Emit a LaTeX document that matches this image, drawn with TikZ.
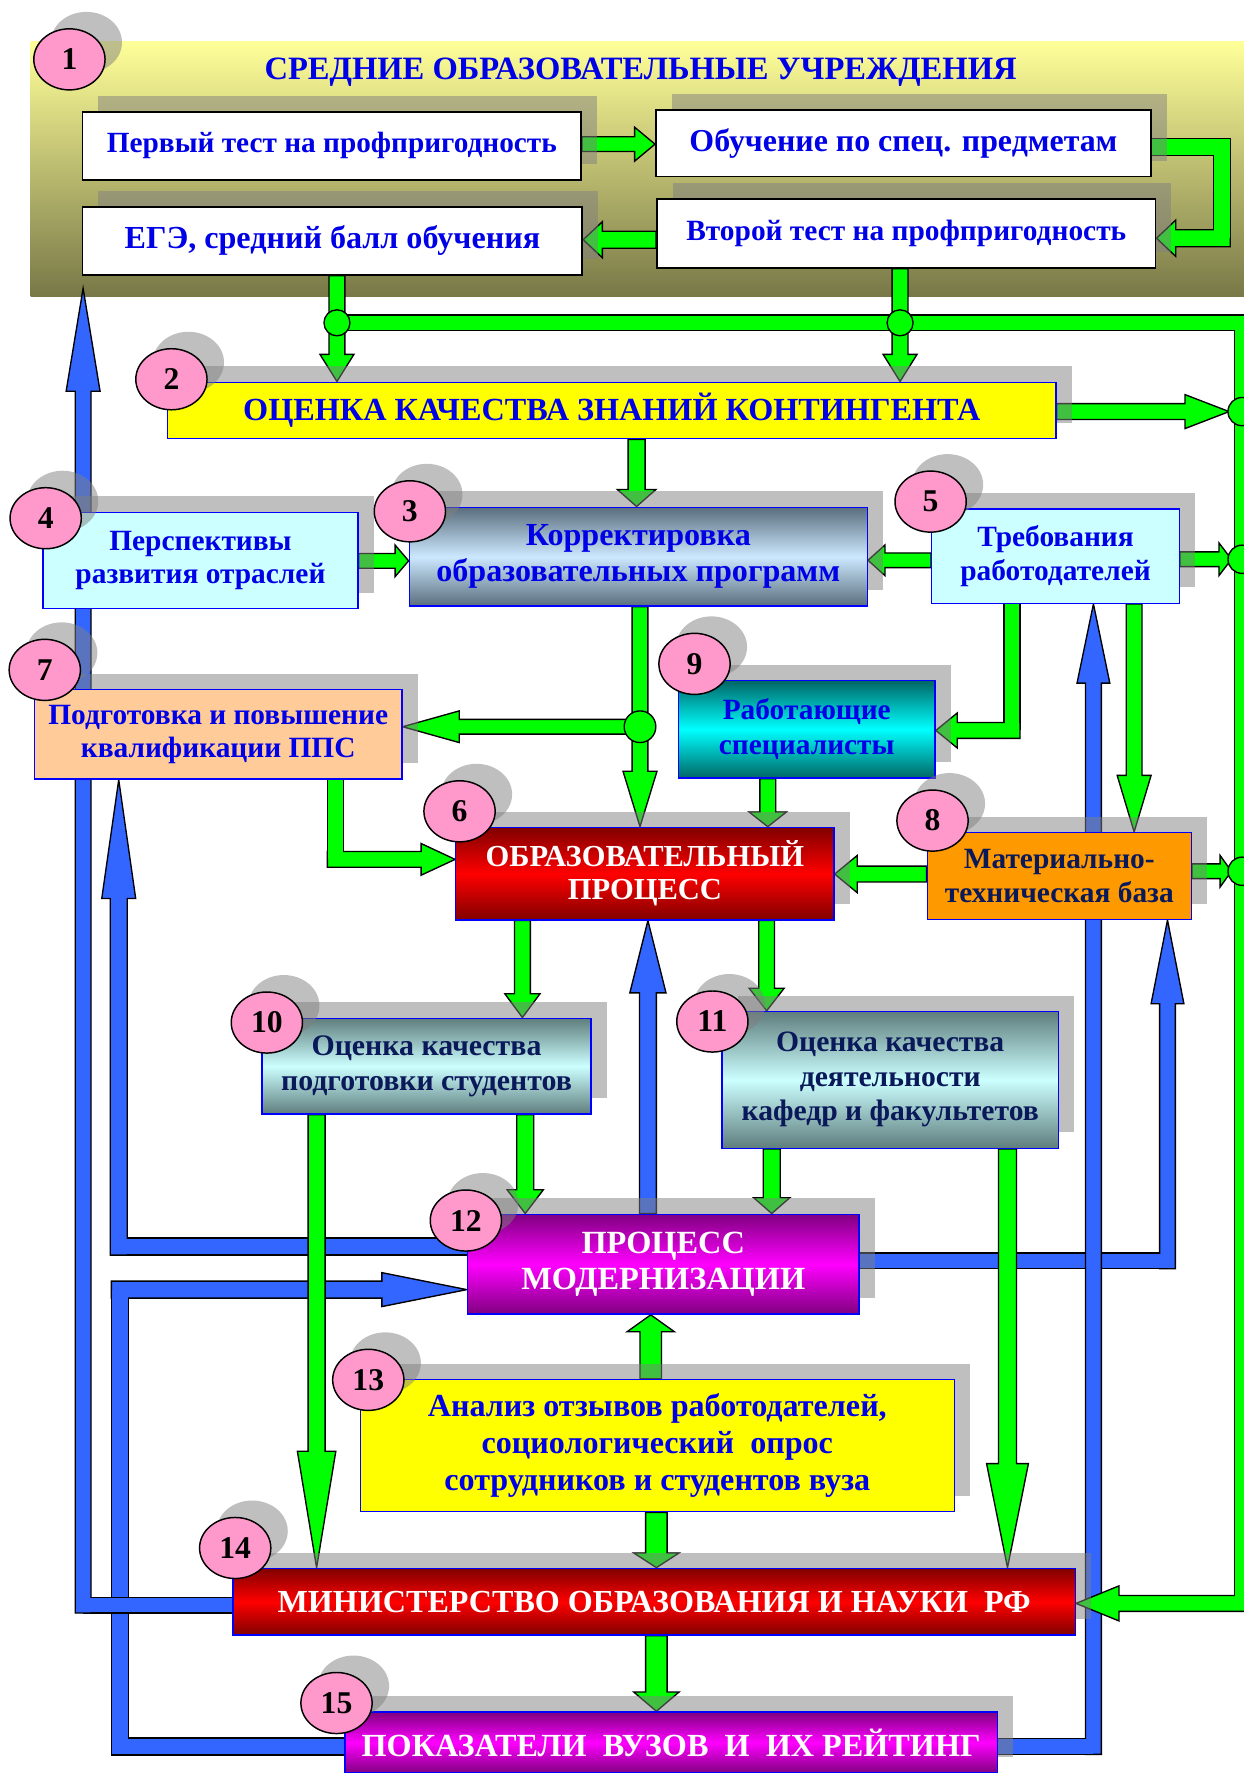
\documentclass[tikz,border=0pt]{standalone}
\usepackage{fontspec}
\setmainfont{Liberation Serif}
\usetikzlibrary{calc,shapes.geometric,shadows}
\pgfdeclarelayer{bgl}
\pgfdeclarelayer{conn}
\pgfsetlayers{bgl,conn,main}

\definecolor{gr}{RGB}{0,255,0}
\definecolor{bl}{RGB}{51,102,255}
\definecolor{tb}{RGB}{0,0,230}
\definecolor{nv}{RGB}{10,25,90}
\definecolor{bb}{RGB}{0,0,255}
\definecolor{pk}{RGB}{255,153,204}
\definecolor{bgtop}{RGB}{255,255,153}
\definecolor{bgbot}{RGB}{120,120,72}
\definecolor{slate}{RGB}{90,110,125}
\definecolor{lblue}{RGB}{204,232,255}
\definecolor{teal}{RGB}{0,102,102}
\definecolor{cyan2}{RGB}{0,255,255}
\definecolor{gteal}{RGB}{95,125,125}
\definecolor{lcyan}{RGB}{204,255,255}
\definecolor{dred}{RGB}{128,0,0}
\definecolor{rred}{RGB}{255,0,0}
\definecolor{dpur}{RGB}{128,0,128}
\definecolor{mag}{RGB}{255,0,255}
\definecolor{peach}{RGB}{255,204,153}
\definecolor{orng}{RGB}{255,153,0}
\definecolor{yel}{RGB}{255,255,0}

\newcommand\fs[2]{\fontsize{#1}{#2}\selectfont}

% block arrow: #1 colour, #2 start, #3 end, #4 shaft width, #5 head width, #6 head length
\newcommand\blockarrow[6]{%
  \path let \p1=#2, \p2=#3 in \pgfextra{%
    \pgfmathsetmacro\bAang{atan2((\y2)-(\y1),(\x2)-(\x1))}%
    \pgfmathsetmacro\bAlen{veclen((\x2)-(\x1),(\y2)-(\y1))}%
    \global\let\bAang\bAang
    \global\let\bAlen\bAlen};
  \filldraw[arrowline,fill=#1,shift={#2},rotate=\bAang]
    (0,{#4/2}) -- ({\bAlen-#6},{#4/2}) -- ({\bAlen-#6},{#5/2}) -- (\bAlen,0)
    -- ({\bAlen-#6},{-#5/2}) -- ({\bAlen-#6},{-#4/2}) -- (0,{-#4/2}) -- cycle;}
% pipe outline / interior
\newcommand\pipeO[2]{\draw[line width={#1+1.2}, black, line join=miter] #2;}
\newcommand\pipeI[3]{\draw[line width={#2-1.2}, #1, line join=miter] #3;}

\begin{document}
\begin{tikzpicture}[x=1pt,y=-1pt,
  arrowline/.style={draw=black, line width=1.2pt, line join=miter},
  bx/.style={draw=bb, line width=1.2pt, inner sep=0pt, align=center,
    general shadow={shadow xshift=14pt, shadow yshift=14pt, fill=black!50, opacity=.5}},
  wbx/.style={bx, draw=black, line width=1.5pt, fill=white, text=tb},
  num/.style={ellipse, draw=black, line width=1.3pt, fill=pk, minimum width=63pt,
    minimum height=54pt, inner sep=0pt, font=\fs{28}{28}\bfseries,
    general shadow={shadow xshift=15pt, shadow yshift=15pt, fill=black!50, opacity=.5}},
  jn/.style={draw=black, line width=1.2pt, fill=gr}]
\useasboundingbox (0,0) rectangle (1100,1568);

\begin{pgfonlayer}{bgl}
  \fill[top color=bgtop, bottom color=bgbot] (27,37) rectangle (1100,262);
\end{pgfonlayer}

% ---------------- boxes ----------------
\node[text=tb, font=\fs{28.8}{30}\bfseries] (t1) at (566.5,64) {СРЕДНИЕ ОБРАЗОВАТЕЛЬНЫЕ УЧРЕЖДЕНИЯ};
\node[wbx, minimum width=441pt, minimum height=60pt, font=\fs{25.9}{30}\bfseries] (A) at (293.5,129) {Первый тест на профпригодность};
\node[wbx, minimum width=438pt, minimum height=59pt, font=\fs{28.2}{30}\bfseries] (B) at (799,126.5) {Обучение по спец. предметам};
\node[wbx, minimum width=442pt, minimum height=60pt, font=\fs{28.4}{30}\bfseries] (C) at (294,213) {ЕГЭ, средний балл обучения};
\node[wbx, minimum width=441pt, minimum height=60.7pt, font=\fs{26}{30}\bfseries] (D) at (801.5,206.5) {Второй тест на профпригодность};

\node[bx, fill=yel, text=tb, minimum width=786pt, minimum height=50pt, font=\fs{28.5}{30}\bfseries] (b2) at (541,363) {ОЦЕНКА КАЧЕСТВА ЗНАНИЙ КОНТИНГЕНТА};
\node[bx, top color=slate, bottom color=slate, middle color=lblue, text=tb, minimum width=405pt, minimum height=87.5pt, font=\fs{28.4}{32}\bfseries] (b3) at (564.5,492.3) {Корректировка\\образовательных программ};
\node[bx, fill=lcyan, text=tb, minimum width=278.5pt, minimum height=85pt, font=\fs{26}{29}\bfseries] (b4) at (177.3,495.5) {Перспективы\\развития отраслей};
\node[bx, fill=lcyan, text=tb, minimum width=219pt, minimum height=83.5pt, font=\fs{26}{29.5}\bfseries] (b5) at (933.5,491.8) {Требования\\работодателей};
\node[bx, fill=peach, text=tb, minimum width=325pt, minimum height=79pt, font=\fs{26}{29.5}\bfseries] (b7) at (193,649.5) {Подготовка и повышение\\квалификации ППС};
\node[bx, top color=teal, bottom color=teal, middle color=cyan2, text=tb, minimum width=227pt, minimum height=86pt, font=\fs{26}{31}\bfseries] (b9) at (713.5,645) {Работающие\\специалисты};
\node[bx, top color=dred, bottom color=dred, middle color=rred, text=white, minimum width=334.5pt, minimum height=81.8pt, font=\fs{27}{29}\bfseries] (b6) at (570.3,772.6) {ОБРАЗОВАТЕЛЬНЫЙ\\ПРОЦЕСС};
\node[bx, fill=orng, text=nv, minimum width=233.5pt, minimum height=76.7pt, font=\fs{26}{29.5}\bfseries] (b8) at (936.8,774.7) {Материально-\\техническая база};
\node[bx, top color=gteal, bottom color=gteal, middle color=lcyan, text=nv, minimum width=291.2pt, minimum height=84.8pt, font=\fs{26.4}{31}\bfseries] (b10) at (377.2,942.9) {Оценка качества\\подготовки студентов};
\node[bx, top color=gteal, bottom color=gteal, middle color=lcyan, text=nv, minimum width=297.5pt, minimum height=120.9pt, font=\fs{26.2}{30.5}\bfseries] (b11) at (787.3,955) {Оценка качества\\деятельности\\кафедр и факультетов};
\node[bx, top color=dpur, bottom color=dpur, middle color=mag, text=white, minimum width=346.3pt, minimum height=88.4pt, font=\fs{28.6}{32}\bfseries] (b12) at (586.5,1118) {ПРОЦЕСС\\МОДЕРНИЗАЦИИ};
\node[bx, fill=yel, text=tb, minimum width=525.5pt, minimum height=117pt, font=\fs{28.4}{32.5}\bfseries] (b13) at (581.3,1278.5) {Анализ отзывов работодателей,\\социологический~ опрос\\сотрудников и студентов вуза};
\node[bx, top color=dred, bottom color=dred, middle color=rred, text=white, minimum width=745pt, minimum height=59pt, font=\fs{28.4}{30}\bfseries] (b14) at (578.5,1416.5) {МИНИСТЕРСТВО ОБРАЗОВАНИЯ И НАУКИ~ РФ};
\node[bx, top color=dpur, bottom color=dpur, middle color=mag, text=white, minimum width=577pt, minimum height=54pt, font=\fs{28.5}{30}\bfseries] (b15) at (593.5,1541) {ПОКАЗАТЕЛИ~ ВУЗОВ~ И~ ИХ РЕЙТИНГ};

% ---------------- number circles ----------------
\node[num] (c1) at (61.4,52.5) {1};
\node[num] (c2) at (151.6,335.4) {2};
\node[num] (c3) at (362.5,452.2) {3};
\node[num] (c4) at (40.4,458.3) {4};
\node[num] (c5) at (823,443.6) {5};
\node[num] (c6) at (406.4,717.5) {6};
\node[num] (c7) at (39.6,592.4) {7};
\node[num] (c8) at (824.7,725.7) {8};
\node[num] (c9) at (614.2,587.1) {9};
\node[num] (c10) at (236,904.3) {10};
\node[num] (c11) at (630,903.4) {11};
\node[num] (c12) at (412,1079.4) {12};
\node[num] (c13) at (325.7,1220.3) {13};
\node[num] (c14) at (208,1369) {14};
\node[num] (c15) at (297.6,1506.1) {15};

% ---------------- connectors ----------------
\begin{pgfonlayer}{conn}
% blue
\blockarrow{bl}{(573,0 |- b12.north)}{(573,0 |- b6.south)}{15}{32}{64}
\pipeO{14}{(b12.east |- 0,1115) -- (1032.5,1115)}
\blockarrow{bl}{(1032.5,1122)}{(1032.5,0 |- b8.south)}{14}{29}{74}
\pipeI{bl}{14}{(b12.east |- 0,1115) -- (1032.5,1115)}
\pipeO{14}{(b15.east |- 0,1544.5) -- (967,1544.5)}
\blockarrow{bl}{(967,1551.5)}{(967,0 |- b5.south)}{14}{29}{70}
\pipeI{bl}{14}{(b15.east |- 0,1544.5) -- (967,1544.5)}
\pipeO{15}{(b15.west |- 0,1544.5) -- (106,1544.5) -- (106,1140.5)}
\blockarrow{bl}{(98.5,1140.5)}{(b12.west |- 0,1140.5)}{15}{30}{75}
\pipeI{bl}{15}{(b15.west |- 0,1544.5) -- (106,1544.5) -- (106,1140.5)}
\pipeO{15}{(b12.west |- 0,1102.3) -- (105,1102.3)}
\blockarrow{bl}{(105,1110)}{(105,0 |- b7.south)}{15}{30}{105}
\pipeI{bl}{15}{(b12.west |- 0,1102.3) -- (105,1102.3)}
\pipeO{14}{(b14.west |- 0,1419.5) -- (73.5,1419.5)}
\blockarrow{bl}{(73.5,1426.5)}{(73.5,255)}{14}{30}{91}
\pipeI{bl}{14}{(b14.west |- 0,1419.5) -- (73.5,1419.5)}
% green
\blockarrow{gr}{(A.east |- 0,127.5)}{(B.west |- 0,127.5)}{13}{30}{18}
\pipeO{15}{(B.east |- 0,130) -- (1080.5,130) -- (1080.5,210.7)}
\blockarrow{gr}{(1088,210.7)}{(D.east |- 0,210.7)}{15}{32}{17}
\pipeI{gr}{15}{(B.east |- 0,130) -- (1080.5,130) -- (1080.5,210.7)}
\blockarrow{gr}{(D.west |- 0,212)}{(C.east |- 0,212)}{15}{32}{17}
\blockarrow{gr}{(298,0 |- C.south)}{(298,0 |- b2.north)}{14}{30}{24}
\blockarrow{gr}{(796,0 |- D.south)}{(796,0 |- b2.north)}{14}{30}{24}
\pipeO{14}{(298,285.5) -- (1098.5,285.5) -- (1098.5,1418)}
\blockarrow{gr}{(1105.5,1418)}{(b14.east |- 0,1418)}{14}{31}{38}
\pipeI{gr}{14}{(298,285.5) -- (1098.5,285.5) -- (1098.5,1418)}
\blockarrow{gr}{(b2.east |- 0,364)}{(1087,364)}{14}{30}{39}
\blockarrow{gr}{(b5.east |- 0,494.6)}{(1089,494.6)}{13}{29}{11}
\blockarrow{gr}{(b8.east |- 0,770.5)}{(1089,770.5)}{13}{28}{10}
\blockarrow{gr}{(563,0 |- b2.south)}{(563,0 |- b3.north)}{15}{34}{15}
\blockarrow{gr}{(b4.east |- 0,496)}{(b3.west |- 0,496)}{13}{28}{12}
\blockarrow{gr}{(b5.west |- 0,495.5)}{(b3.east |- 0,495.5)}{13}{27}{15}
\blockarrow{gr}{(566,0 |- b3.south)}{(566,0 |- b6.north)}{14}{30}{49}
\blockarrow{gr}{(566,642.7)}{(b7.east |- 0,642.7)}{13}{28}{50}
\pipeO{14}{(895,0 |- b5.south) -- (895,646)}
\blockarrow{gr}{(902,646)}{(b9.east |- 0,646)}{14}{31}{19}
\pipeI{gr}{14}{(895,0 |- b5.south) -- (895,646)}
\blockarrow{gr}{(1003,0 |- b5.south)}{(1003,0 |- b8.north)}{14}{30}{50}
\blockarrow{gr}{(679,0 |- b9.south)}{(679,0 |- b6.north)}{14}{33}{13}
\blockarrow{gr}{(b8.west |- 0,773)}{(b6.east |- 0,773)}{14}{33}{20}
\pipeO{14}{(296.5,0 |- b7.south) -- (296.5,760)}
\blockarrow{gr}{(289.5,760)}{(b6.west |- 0,760)}{14}{28}{30}
\pipeI{gr}{14}{(296.5,0 |- b7.south) -- (296.5,760)}
\blockarrow{gr}{(462,0 |- b6.south)}{(462,0 |- b10.north)}{14}{31}{21}
\blockarrow{gr}{(678,0 |- b6.south)}{(678,0 |- b11.north)}{14}{31}{20}
\blockarrow{gr}{(464.5,0 |- b10.south)}{(464.5,0 |- b12.north)}{15}{32}{21}
\blockarrow{gr}{(682.5,0 |- b11.south)}{(682.5,0 |- b12.north)}{15}{32}{14}
\blockarrow{gr}{(280,0 |- b10.south)}{(280,0 |- b14.north)}{15}{34}{103}
\blockarrow{gr}{(891,0 |- b11.south)}{(891,0 |- b14.north)}{16}{37}{92}
\blockarrow{gr}{(575.5,0 |- b13.north)}{(575.5,0 |- b12.south)}{19}{42}{15}
\blockarrow{gr}{(580.5,0 |- b13.south)}{(580.5,0 |- b14.north)}{19}{40}{13}
\blockarrow{gr}{(580.5,0 |- b14.south)}{(580.5,0 |- b15.north)}{19}{40}{17}
% junctions
\draw[jn] (298,285.5) circle[radius=11.5];
\draw[jn] (796,285.5) circle[radius=11.5];
\draw[jn] (1098.5,364) circle[radius=12.5];
\draw[jn] (1098.5,494.6) circle[radius=12.5];
\draw[jn] (1098.5,770.5) circle[radius=12.5];
\draw[jn] (566,642.7) circle[radius=14];
\end{pgfonlayer}
\end{tikzpicture}
\end{document}
